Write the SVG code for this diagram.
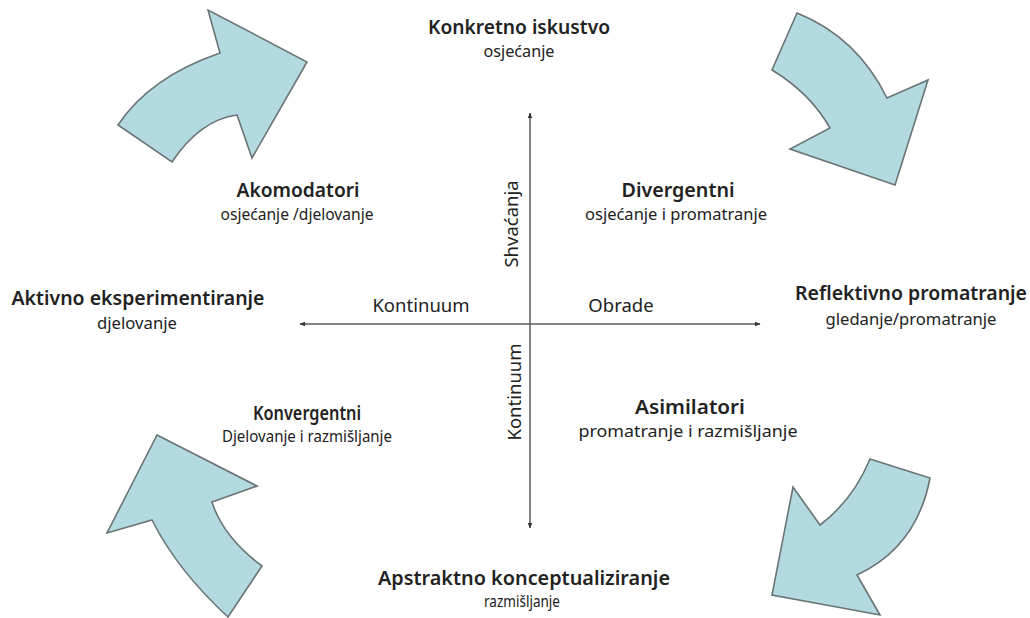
<svg xmlns="http://www.w3.org/2000/svg" width="1030" height="618" viewBox="0 0 1030 618">
  <defs>
    <marker id="tip" viewBox="0 0 10 10" refX="9" refY="5" markerWidth="6" markerHeight="6" orient="auto-start-reverse" markerUnits="userSpaceOnUse">
      <path d="M0,1 L10,5 L0,9 Z" fill="#333"/>
    </marker>
    <style>
      .cycle { fill: #b2dae0; stroke: #6b7475; stroke-width: 1.6; stroke-linejoin: miter; }
      .axis { stroke: #5a5a5a; stroke-width: 1.5; fill: none; }
      text { font-family: "Noto Sans", "Open Sans", "DejaVu Sans", sans-serif; fill: #222; text-anchor: middle; }
      .title { font-size: 19px; font-weight: 600; }
      .sub { font-size: 15.5px; }
      .axlabel { font-size: 18.5px; }
    </style>
  </defs>

  <rect width="1030" height="618" fill="#ffffff"/>

  <!-- curved cycle arrows -->
  <g id="arrow-top-left">
    <path class="cycle" d="M118,125 Q150,77 220,53 L208,10 L307,62 L252,158 L237,115 Q200,120 172,162 Z"/>
  </g>
  <g id="arrow-top-right">
    <path class="cycle" d="M797,13 Q857,37 887,98 L928,80 L895,185 L790,149 L830,128 Q810,93 772,70 Z"/>
  </g>
  <g id="arrow-bottom-right">
    <path class="cycle" d="M870,459 L930,478 Q917,547 857,575 L880,615 L772,595 L793,487 L820,525 Q853,500 870,459 Z"/>
  </g>
  <g id="arrow-bottom-left">
    <path class="cycle" d="M157,435 L257,486 L212,502 Q223,537 262,566 L228,617 Q177,570 152,520 L107,533 Z"/>
  </g>

  <!-- axes -->
  <g id="connectors">
    <line class="axis" x1="530" y1="528" x2="530" y2="113" marker-start="url(#tip)" marker-end="url(#tip)"/>
    <line class="axis" x1="300" y1="324" x2="760" y2="324" marker-start="url(#tip)" marker-end="url(#tip)"/>
  </g>

  <g id="axis-labels">
    <text class="axlabel" x="421" y="312">Kontinuum</text>
    <text class="axlabel" x="621" y="312">Obrade</text>
    <text class="axlabel" transform="translate(518,224) rotate(-90)">Shvaćanja</text>
    <text class="axlabel" transform="translate(521,392) rotate(-90)">Kontinuum</text>
  </g>

  <g id="node-konkretno">
    <text class="title" x="519" y="34" textLength="182" lengthAdjust="spacingAndGlyphs">Konkretno iskustvo</text>
    <text class="sub" x="519" y="57" textLength="71" lengthAdjust="spacingAndGlyphs">osjećanje</text>
  </g>
  <g id="node-reflektivno">
    <text class="title" x="911" y="300" textLength="232" lengthAdjust="spacingAndGlyphs">Reflektivno promatranje</text>
    <text class="sub" x="911" y="325" textLength="171" lengthAdjust="spacingAndGlyphs">gledanje/promatranje</text>
  </g>
  <g id="node-apstraktno">
    <text class="title" x="524" y="585" textLength="292" lengthAdjust="spacingAndGlyphs">Apstraktno konceptualiziranje</text>
    <text class="sub" x="522" y="607" textLength="76" lengthAdjust="spacingAndGlyphs">razmišljanje</text>
  </g>
  <g id="node-aktivno">
    <text class="title" x="138" y="305" textLength="253" lengthAdjust="spacingAndGlyphs">Aktivno eksperimentiranje</text>
    <text class="sub" x="137" y="329" textLength="80" lengthAdjust="spacingAndGlyphs">djelovanje</text>
  </g>
  <g id="node-akomodatori">
    <text class="title" x="298" y="197" textLength="123" lengthAdjust="spacingAndGlyphs">Akomodatori</text>
    <text class="sub" x="297" y="220" textLength="153" lengthAdjust="spacingAndGlyphs">osjećanje /djelovanje</text>
  </g>
  <g id="node-divergentni">
    <text class="title" x="678" y="197" textLength="113" lengthAdjust="spacingAndGlyphs">Divergentni</text>
    <text class="sub" x="676" y="220" textLength="182" lengthAdjust="spacingAndGlyphs">osjećanje i promatranje</text>
  </g>
  <g id="node-konvergentni">
    <text class="title" x="307" y="420" textLength="108" lengthAdjust="spacingAndGlyphs">Konvergentni</text>
    <text class="sub" x="307" y="442" textLength="170" lengthAdjust="spacingAndGlyphs">Djelovanje i razmišljanje</text>
  </g>
  <g id="node-asimilatori">
    <text class="title" x="690" y="414" textLength="110" lengthAdjust="spacingAndGlyphs">Asimilatori</text>
    <text class="sub" x="688" y="437" textLength="219" lengthAdjust="spacingAndGlyphs">promatranje i razmišljanje</text>
  </g>
</svg>
